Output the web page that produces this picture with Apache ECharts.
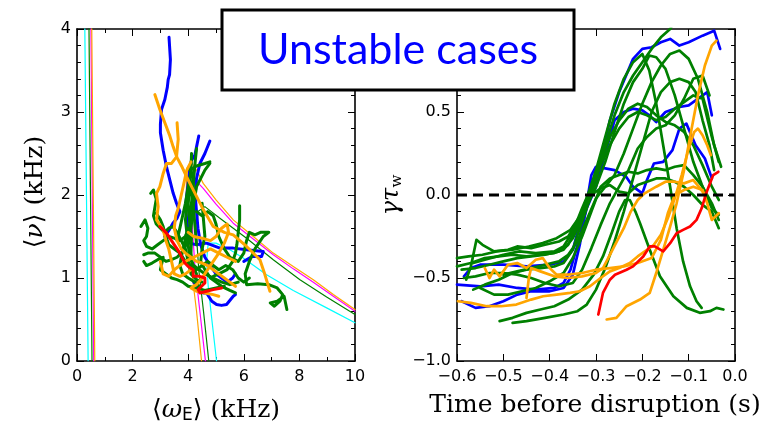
<!DOCTYPE html>
<html><head><meta charset="utf-8">
<script src="https://cdn.jsdelivr.net/npm/echarts@6/dist/echarts.min.js"></script>
<style>html,body{margin:0;padding:0;background:#fff}#c{width:762px;height:427px}</style>
</head><body><div id="c"></div>
<script>
// ---------- tick labels ----------
const leftXTicks = [0, 2, 4, 6, 8, 10];
const leftYTicks = [0, 1, 2, 3, 4];
const rightXTicks = [-0.6, -0.5, -0.4, -0.3, -0.2, -0.1, 0.0];
const rightYTicks = [-1.0, -0.5, 0.0, 0.5, 1.0];

// ---------- left panel: thin boundary curves (omega_E, nu) ----------
const thinCyanV = [[0.28,4.05],[0.4,0]];
const thinGreenV = [[0.43,4.05],[0.54,0]];
const thinMagentaV = [[0.5,4.05],[0.6,0]];
const thinOrangeV = [[0.53,4.05],[0.64,0]];
const thinOrange = [[4.48,0],[4.3,0.6],[4.12,1.1],[4.0,1.6],[3.93,2.0],[3.95,2.32],[4.1,2.4],[4.3,2.3],[4.54,2.14],[5.0,1.94],[5.62,1.7],[6.34,1.5],[7.06,1.3],[7.78,1.14],[8.5,0.98],[9.22,0.8],[10,0.62]];
const thinMagenta = [[4.62,0],[4.42,0.6],[4.25,1.1],[4.15,1.6],[4.12,2.0],[4.2,2.2],[4.54,2.08],[5.0,1.89],[5.62,1.66],[6.34,1.47],[7.06,1.28],[7.78,1.11],[8.5,0.95],[9.22,0.78],[10,0.6]];
const thinGreen = [[4.74,0],[4.55,0.6],[4.38,1.1],[4.3,1.5],[4.35,1.8],[4.6,1.86],[5.14,1.72],[6.1,1.48],[7.06,1.22],[8.02,0.98],[8.98,0.77],[10,0.56]];
const thinCyan = [[5.02,0],[4.85,0.5],[4.72,0.9],[4.66,1.2],[4.72,1.42],[5.0,1.42],[5.5,1.34],[5.98,1.24],[6.82,1.04],[7.78,0.85],[8.98,0.64],[10,0.46]];

// ---------- left panel: trajectories ----------
const leftBlue1 = [[3.31,3.9],[3.36,3.63],[3.33,3.45],[3.28,3.39],[3.25,3.3],[3.16,3.15],[3.04,3.03],[3.0,2.85],[3.0,2.75],[3.1,2.54],[3.22,2.34],[3.34,2.18],[3.46,2.02],[3.58,1.9],[3.7,1.8],[3.6,1.72],[3.45,1.66],[3.32,1.58],[3.15,1.5]];
const leftBlue2 = [[4.38,2.71],[4.3,2.58],[4.24,2.48],[4.12,2.42],[4.05,2.3],[4.0,2.15],[3.95,2.0],[3.9,1.85],[3.95,1.7],[4.0,1.55],[4.05,1.42],[4.3,1.4],[4.66,1.42],[5.14,1.36],[5.62,1.36],[6.1,1.34],[6.7,1.32],[6.64,1.26],[6.3,1.26],[6.0,1.2]];
const leftBlue3 = [[4.78,2.65],[4.6,2.5],[4.42,2.38],[4.3,2.2],[4.25,2.0],[4.3,1.8],[4.35,1.6],[4.45,1.4],[4.6,1.25],[4.8,1.15],[5.0,1.05],[5.2,1.0],[5.4,0.95],[5.6,1.0],[5.7,1.05]];
const leftBlue4 = [[4.2,0.95],[4.4,0.88],[4.55,0.82],[4.66,0.82],[4.85,0.72],[5.02,0.68],[5.2,0.67],[5.38,0.68],[5.62,0.78],[5.7,0.8]];

const leftGreen1 = [[4.3,2.56],[4.25,2.4],[4.2,2.2],[4.15,2.0],[4.1,1.85],[4.05,1.7],[4.08,1.55],[4.0,1.4],[4.05,1.25],[4.2,1.15],[4.4,1.1],[4.6,1.05],[4.9,1.0],[5.2,0.95],[5.5,0.92],[5.8,0.95]];
const leftGreen2 = [[4.78,2.38],[4.6,2.3],[4.45,2.2],[4.3,2.1],[4.2,1.9],[4.15,1.75],[4.1,1.6],[4.0,1.5],[3.9,1.38],[3.75,1.3],[3.6,1.25],[3.4,1.22],[3.2,1.2],[3.0,1.25],[2.8,1.3],[2.55,1.3],[2.4,1.28]];
const leftGreen3 = [[2.3,1.62],[2.45,1.7],[2.55,1.6],[2.5,1.5],[2.4,1.45],[2.5,1.38],[2.7,1.35],[2.9,1.4],[3.1,1.45],[3.3,1.5],[3.5,1.48],[3.7,1.45],[3.9,1.5],[4.0,1.6]];
const leftGreen4 = [[2.65,2.02],[2.75,2.06],[2.85,1.95],[2.8,1.85],[2.75,1.75],[2.85,1.65],[3.0,1.6],[3.15,1.55],[3.3,1.6],[3.45,1.62],[3.6,1.55],[3.75,1.45],[3.9,1.35],[4.0,1.2],[4.1,1.05],[4.3,0.98],[4.5,0.95]];
const leftGreen5 = [[4.3,1.8],[4.5,1.75],[4.7,1.8],[4.9,1.75],[5.0,1.65],[5.1,1.5],[5.3,1.35],[5.5,1.25],[5.8,1.2],[6.0,1.3],[6.1,1.45],[6.2,1.55],[6.4,1.52],[6.6,1.55],[6.9,1.55],[6.7,1.5],[6.4,1.35],[6.2,1.2],[6.05,1.05],[6.1,0.92],[6.5,0.93],[6.9,0.92],[7.2,0.88],[7.4,0.8],[7.3,0.72],[7.1,0.66],[6.95,0.7],[7.2,0.72],[7.45,0.78],[7.55,0.62]];
const leftGreen6 = [[4.5,1.9],[4.55,1.7],[4.6,1.5],[4.5,1.35],[4.45,1.2],[4.6,1.1],[4.8,1.0],[5.0,0.95],[5.2,0.9],[5.5,0.85],[5.7,0.82]];
const leftGreen7 = [[4.2,2.3],[4.15,2.15],[4.05,2.0],[3.95,1.85],[3.9,1.7],[3.95,1.55],[3.85,1.4],[3.75,1.25],[3.7,1.15],[3.8,1.05],[4.0,1.0],[4.25,0.95],[4.4,0.9]];
const leftGreen8 = [[2.4,1.2],[2.5,1.15],[2.7,1.18],[2.9,1.22],[3.1,1.25],[3.0,1.1],[3.2,1.05],[3.4,1.0],[3.6,0.98],[3.8,0.95],[4.0,0.9],[4.3,0.88],[4.6,0.85],[5.0,0.88],[5.3,0.9]];
const leftGreen9 = [[5.85,1.87],[5.85,1.7],[5.8,1.55],[5.75,1.4],[5.7,1.3],[5.6,1.2],[5.4,1.1],[5.1,1.05],[4.9,1.02]];
const leftGreen10 = [[2.85,1.78],[3.0,1.7],[3.1,1.62],[3.2,1.5],[3.3,1.4],[3.5,1.35],[3.7,1.3],[3.9,1.2],[4.1,1.15],[4.3,1.1],[4.5,1.15],[4.7,1.2],[4.9,1.15],[5.1,1.1],[5.35,1.15],[5.6,1.1],[5.8,1.0],[6.0,0.95],[6.2,1.0]];
const leftGreen11 = [[3.6,1.45],[3.7,1.6],[3.8,1.75],[3.9,1.9],[4.0,2.1],[4.1,2.25],[4.2,2.2],[4.15,2.0],[4.2,1.8],[4.25,1.6],[4.3,1.4]];
const leftGreen12 = [[4.05,2.3],[4.3,2.35],[4.6,2.38],[4.78,2.4]];
const leftGreen13 = [[4.12,2.5],[4.1,2.3],[4.02,2.1],[4.0,1.9],[4.05,1.7],[4.12,1.5],[4.1,1.3],[4.15,1.15],[4.3,1.05]];

const leftOrange1 = [[2.8,3.21],[2.98,3.03],[3.16,2.87],[3.34,2.71],[3.46,2.58],[3.6,2.45],[3.76,2.35],[3.94,2.22],[4.2,2.05],[4.5,1.85],[4.9,1.62],[5.3,1.55],[5.62,1.52],[6.1,1.38],[6.58,1.22],[6.75,1.05],[6.94,0.84]];
const leftOrange2 = [[3.6,2.87],[3.64,2.67],[3.58,2.46],[3.4,2.38],[3.22,2.38],[3.1,2.26],[2.98,2.1],[2.86,2.02],[2.92,1.86],[2.86,1.7],[3.1,1.58],[3.2,1.45],[3.3,1.35],[3.4,1.2],[3.5,1.05],[3.7,1.02],[3.9,1.05],[4.1,1.1]];
const leftOrange3 = [[4.1,2.4],[3.95,2.3],[3.85,2.15],[3.75,2.0],[3.65,1.85],[3.55,1.75],[3.5,1.6],[3.6,1.45],[3.75,1.35],[3.9,1.3],[4.1,1.25],[4.3,1.2],[4.5,1.18],[4.7,1.15],[4.9,1.1],[5.1,1.05],[5.3,1.0],[5.5,0.95],[5.7,0.9]];
const leftOrange4 = [[4.0,1.55],[4.2,1.5],[4.5,1.48],[4.8,1.45],[5.0,1.5],[5.2,1.6],[5.4,1.65],[5.45,1.55],[5.3,1.42],[5.1,1.3],[4.9,1.2],[4.7,1.1],[4.5,1.0],[4.3,0.92],[4.1,0.88],[4.3,0.84],[4.6,0.82],[4.9,0.8],[5.1,0.78]];
const leftOrange5 = [[3.0,1.2],[3.1,1.05],[3.3,1.02],[3.5,1.1],[3.7,1.15],[3.9,1.2],[4.2,1.25],[4.5,1.3],[4.8,1.35],[5.1,1.3],[5.4,1.25],[5.7,1.2]];

const leftRed = [[2.98,1.62],[3.22,1.54],[3.46,1.42],[3.7,1.3],[3.88,1.18],[4.0,1.14],[4.18,1.1],[4.18,1.02],[4.42,1.02],[4.6,1.0],[4.6,0.94],[4.48,0.9],[4.36,0.86],[4.42,0.82],[4.66,0.84],[4.9,0.86],[5.2,0.88]];

// ---------- right panel: growth rate vs time (t, gamma*tau_w) ----------
const rightBlue1 = [[-0.585,-0.49],[-0.57,-0.44],[-0.55,-0.42],[-0.5,-0.42],[-0.45,-0.43],[-0.4,-0.42],[-0.37,-0.4],[-0.35,-0.33],[-0.33,-0.12],[-0.31,0.02],[-0.29,0.2],[-0.27,0.45],[-0.25,0.62],[-0.22,0.82],[-0.2,0.88],[-0.18,0.89],[-0.16,0.92],[-0.14,0.94],[-0.12,0.9],[-0.1,0.92],[-0.07,0.96],[-0.045,0.99],[-0.032,0.88]];
const rightBlue2 = [[-0.6,-0.54],[-0.55,-0.55],[-0.51,-0.54],[-0.47,-0.56],[-0.43,-0.57],[-0.39,-0.56],[-0.37,-0.53],[-0.355,-0.45],[-0.34,-0.3],[-0.32,-0.08],[-0.3,0.05],[-0.28,0.25],[-0.26,0.45],[-0.24,0.5],[-0.22,0.52],[-0.2,0.51],[-0.185,0.48],[-0.17,0.44],[-0.15,0.5],[-0.12,0.53],[-0.1,0.54],[-0.075,0.59],[-0.06,0.62],[-0.05,0.48]];
const rightBlue3 = [[-0.59,-0.64],[-0.56,-0.68],[-0.53,-0.67],[-0.5,-0.64],[-0.47,-0.6],[-0.44,-0.58],[-0.4,-0.58],[-0.37,-0.56],[-0.35,-0.48],[-0.335,-0.3],[-0.32,-0.05],[-0.31,0.12],[-0.3,0.17],[-0.28,0.16],[-0.26,0.15],[-0.235,0.11],[-0.22,0.05],[-0.2,0.01],[-0.19,0.09],[-0.175,0.19],[-0.155,0.2],[-0.135,0.27],[-0.12,0.4],[-0.105,0.43],[-0.085,0.3],[-0.065,0.22],[-0.05,0.1]];

const rightGreen1 = [[-0.6,-0.38],[-0.575,-0.37],[-0.545,-0.36],[-0.515,-0.34],[-0.48,-0.33],[-0.445,-0.31],[-0.415,-0.29],[-0.385,-0.26],[-0.355,-0.21],[-0.335,-0.13],[-0.315,-0.04],[-0.3,0.05],[-0.28,0.2],[-0.26,0.38],[-0.24,0.55],[-0.22,0.68],[-0.2,0.76],[-0.185,0.84],[-0.17,0.83],[-0.15,0.76],[-0.13,0.6],[-0.11,0.4],[-0.09,0.2],[-0.07,0.05],[-0.05,-0.08],[-0.035,-0.12]];
const rightGreen2 = [[-0.58,-0.51],[-0.57,-0.43],[-0.558,-0.27],[-0.545,-0.3],[-0.52,-0.34],[-0.49,-0.33],[-0.47,-0.31],[-0.44,-0.32],[-0.41,-0.3],[-0.38,-0.28],[-0.36,-0.25],[-0.34,-0.16],[-0.32,-0.05],[-0.3,0.1],[-0.28,0.3],[-0.26,0.48],[-0.24,0.62],[-0.22,0.72],[-0.2,0.8],[-0.18,0.88],[-0.16,0.95],[-0.14,1.0],[-0.13,1.05]];
const rightGreen3 = [[-0.565,-0.41],[-0.54,-0.39],[-0.5,-0.36],[-0.465,-0.34],[-0.43,-0.35],[-0.39,-0.34],[-0.37,-0.31],[-0.35,-0.22],[-0.33,-0.08],[-0.31,0.05],[-0.29,0.2],[-0.27,0.35],[-0.25,0.45],[-0.23,0.52],[-0.21,0.55],[-0.19,0.53],[-0.17,0.48],[-0.15,0.44],[-0.13,0.42],[-0.11,0.38],[-0.09,0.3],[-0.07,0.18],[-0.05,0.05],[-0.035,-0.03]];
const rightGreen4 = [[-0.565,-0.57],[-0.54,-0.54],[-0.51,-0.51],[-0.48,-0.47],[-0.45,-0.45],[-0.42,-0.44],[-0.39,-0.43],[-0.37,-0.41],[-0.35,-0.33],[-0.335,-0.2],[-0.32,-0.08],[-0.305,0.05],[-0.29,0.18],[-0.27,0.3],[-0.25,0.4],[-0.23,0.47],[-0.21,0.5],[-0.19,0.48],[-0.17,0.45],[-0.15,0.47],[-0.13,0.52],[-0.11,0.56],[-0.09,0.6],[-0.07,0.58],[-0.05,0.35],[-0.035,0.2]];
const rightGreen5 = [[-0.508,-0.76],[-0.48,-0.74],[-0.45,-0.71],[-0.42,-0.69],[-0.39,-0.67],[-0.36,-0.63],[-0.33,-0.57],[-0.305,-0.48],[-0.285,-0.37],[-0.265,-0.22],[-0.25,-0.1],[-0.237,-0.03],[-0.227,-0.03],[-0.215,-0.1],[-0.205,-0.17],[-0.184,-0.33],[-0.162,-0.49],[-0.133,-0.61],[-0.104,-0.68],[-0.076,-0.71],[-0.054,-0.7],[-0.04,-0.68],[-0.025,-0.69]];
const rightGreen6 = [[-0.48,-0.77],[-0.45,-0.76],[-0.41,-0.74],[-0.37,-0.72],[-0.34,-0.7],[-0.32,-0.66],[-0.3,-0.57],[-0.28,-0.44],[-0.26,-0.28],[-0.24,-0.1],[-0.22,0.1],[-0.2,0.3],[-0.18,0.5],[-0.16,0.62],[-0.14,0.68],[-0.12,0.7],[-0.1,0.68],[-0.085,0.62],[-0.07,0.45],[-0.055,0.3],[-0.045,0.15]];
const rightGreen7 = [[-0.59,-0.45],[-0.56,-0.44],[-0.53,-0.42],[-0.5,-0.4],[-0.47,-0.38],[-0.44,-0.37],[-0.41,-0.36],[-0.38,-0.34],[-0.36,-0.3],[-0.34,-0.18],[-0.32,-0.02],[-0.3,0.15],[-0.28,0.35],[-0.26,0.55],[-0.24,0.7],[-0.22,0.8],[-0.2,0.85],[-0.185,0.75],[-0.17,0.55],[-0.155,0.3],[-0.14,0.05],[-0.126,-0.2],[-0.112,-0.4],[-0.097,-0.55],[-0.083,-0.64],[-0.072,-0.68]];
const rightGreen8 = [[-0.55,-0.56],[-0.52,-0.6],[-0.49,-0.6],[-0.46,-0.58],[-0.43,-0.56],[-0.4,-0.52],[-0.37,-0.47],[-0.35,-0.38],[-0.33,-0.25],[-0.31,-0.1],[-0.29,0.05],[-0.27,0.1],[-0.25,0.12],[-0.23,0.14],[-0.21,0.13],[-0.19,0.15],[-0.17,0.16],[-0.15,0.15],[-0.13,0.17],[-0.11,0.18],[-0.09,0.12],[-0.07,0.05],[-0.05,-0.05],[-0.035,-0.15]];
const rightGreen9 = [[-0.5,-0.48],[-0.47,-0.46],[-0.44,-0.44],[-0.41,-0.42],[-0.38,-0.4],[-0.36,-0.36],[-0.34,-0.28],[-0.32,-0.15],[-0.3,-0.02],[-0.28,0.05],[-0.26,0.12],[-0.24,0.25],[-0.22,0.4],[-0.2,0.55],[-0.18,0.68],[-0.16,0.78],[-0.14,0.85],[-0.12,0.87],[-0.1,0.82],[-0.08,0.7],[-0.06,0.5],[-0.045,0.3],[-0.03,0.17]];
const rightGreen10 = [[-0.6,-0.43],[-0.57,-0.41],[-0.54,-0.38],[-0.51,-0.37],[-0.48,-0.36],[-0.45,-0.37],[-0.42,-0.36],[-0.39,-0.35],[-0.37,-0.33],[-0.35,-0.26],[-0.33,-0.14],[-0.31,0.0],[-0.29,0.04],[-0.27,0.06],[-0.25,0.02],[-0.23,0.01],[-0.21,0.06],[-0.19,0.08],[-0.17,0.1],[-0.15,0.1],[-0.13,0.08],[-0.11,0.05],[-0.09,0.0],[-0.07,-0.06],[-0.05,-0.1],[-0.035,-0.2]];
const rightGreen11 = [[-0.585,-0.5],[-0.56,-0.49],[-0.53,-0.47],[-0.5,-0.47],[-0.47,-0.48],[-0.44,-0.5],[-0.41,-0.53],[-0.38,-0.55],[-0.35,-0.53],[-0.33,-0.45],[-0.31,-0.32],[-0.29,-0.18],[-0.27,-0.05],[-0.25,0.05],[-0.23,0.15],[-0.21,0.28],[-0.19,0.35],[-0.17,0.4],[-0.15,0.42],[-0.13,0.48],[-0.11,0.58],[-0.09,0.7],[-0.07,0.72],[-0.055,0.6]];

const rightOrange1 = [[-0.598,-0.64],[-0.57,-0.65],[-0.536,-0.67],[-0.505,-0.67],[-0.472,-0.66],[-0.44,-0.63],[-0.414,-0.61],[-0.385,-0.6],[-0.356,-0.59],[-0.335,-0.58],[-0.313,-0.55],[-0.29,-0.5],[-0.27,-0.46],[-0.25,-0.44],[-0.227,-0.41],[-0.21,-0.37],[-0.19,-0.33],[-0.175,-0.3],[-0.16,-0.24],[-0.145,-0.14],[-0.13,-0.02],[-0.115,0.12],[-0.1,0.28],[-0.088,0.38],[-0.08,0.4],[-0.07,0.36],[-0.06,0.3],[-0.052,0.24]];
const rightOrange2 = [[-0.54,-0.44],[-0.53,-0.5],[-0.52,-0.45],[-0.508,-0.49],[-0.49,-0.42],[-0.47,-0.41],[-0.45,-0.44],[-0.43,-0.39],[-0.415,-0.38],[-0.4,-0.44],[-0.385,-0.48],[-0.36,-0.48],[-0.33,-0.47],[-0.3,-0.45],[-0.27,-0.44],[-0.24,-0.43],[-0.21,-0.41],[-0.18,-0.38],[-0.16,-0.27],[-0.145,-0.11],[-0.13,0.0],[-0.11,0.03],[-0.09,0.05],[-0.07,0.03],[-0.06,-0.05],[-0.05,-0.15],[-0.035,-0.11]];
const rightOrange3 = [[-0.45,-0.62],[-0.445,-0.5],[-0.44,-0.44],[-0.42,-0.46],[-0.39,-0.49],[-0.36,-0.5],[-0.33,-0.49],[-0.3,-0.47],[-0.285,-0.44],[-0.27,-0.36],[-0.255,-0.28],[-0.24,-0.2],[-0.225,-0.1],[-0.21,-0.03],[-0.195,0.01],[-0.17,0.05],[-0.15,0.08],[-0.13,0.08],[-0.11,0.07],[-0.09,0.09],[-0.075,0.04],[-0.065,0.0]];
const rightOrange4 = [[-0.277,-0.75],[-0.256,-0.74],[-0.234,-0.67],[-0.205,-0.63],[-0.184,-0.59],[-0.17,-0.47],[-0.155,-0.33],[-0.14,-0.19],[-0.126,-0.05],[-0.11,0.15],[-0.095,0.38],[-0.08,0.6],[-0.065,0.78],[-0.05,0.9],[-0.04,0.93]];

const rightRed = [[-0.295,-0.72],[-0.285,-0.59],[-0.27,-0.51],[-0.259,-0.48],[-0.234,-0.45],[-0.22,-0.43],[-0.198,-0.37],[-0.184,-0.31],[-0.173,-0.31],[-0.155,-0.34],[-0.14,-0.29],[-0.126,-0.23],[-0.112,-0.21],[-0.097,-0.19],[-0.083,-0.15],[-0.072,-0.08],[-0.061,0.02],[-0.047,0.12],[-0.036,0.14]];

const zeroLine = [[-0.6,0],[0.0,0]];

// ---------- build chart ----------
const C = {blue:'#0000ff', green:'#008000', orange:'#ffa500', red:'#ff0000', cyan:'#00ffff', magenta:'#ff00ff'};
const series = [];
function add(data, color, width, panel, extra) {
  const s = {type:'line', data:data, xAxisIndex: panel*2, yAxisIndex: panel*2, showSymbol:false, symbol:'none',
    smooth:false, animation:false, silent:true,
    lineStyle:{color:color, width:width, join:'round', cap:'round'}};
  if (extra) Object.assign(s.lineStyle, extra);
  series.push(s);
}
[[thinCyanV,C.cyan],[thinGreenV,C.green],[thinMagentaV,C.magenta],[thinOrangeV,C.orange],
 [thinCyan,C.cyan],[thinGreen,C.green],[thinMagenta,C.magenta],[thinOrange,C.orange]].forEach(p=>add(p[0],p[1],1.2,0));
[leftBlue1,leftBlue2,leftBlue3,leftBlue4].forEach(d=>add(d,C.blue,3,0));
[leftGreen1,leftGreen2,leftGreen3,leftGreen4,leftGreen5,leftGreen6,leftGreen7,leftGreen8,leftGreen9,leftGreen10,leftGreen11,leftGreen12,leftGreen13].forEach(d=>add(d,C.green,3,0));
[leftOrange1,leftOrange2,leftOrange3,leftOrange4,leftOrange5].forEach(d=>add(d,C.orange,3,0));
add(leftRed,C.red,3,0);
[rightBlue1,rightBlue2,rightBlue3].forEach(d=>add(d,C.blue,2.7,1));
[rightGreen1,rightGreen2,rightGreen3,rightGreen4,rightGreen5,rightGreen6,rightGreen7,rightGreen8,rightGreen9,rightGreen10,rightGreen11].forEach(d=>add(d,C.green,2.7,1));
[rightOrange1,rightOrange2,rightOrange3,rightOrange4].forEach(d=>add(d,C.orange,2.7,1));
add(rightRed,C.red,2.7,1);
add(zeroLine,'#000',2.8,1,{type:[10,6], cap:'butt'});

const tickFont = {fontFamily:'DejaVu Sans', fontSize:16, color:'#000'};
const fmt1 = v => (Math.abs(v)<1e-9 ? '0.0' : v.toFixed(1).replace('-','\u2212'));
const fmt0 = v => String(Math.round(v));
function axis(grid, pos, min, max, interval, minorSplit, showLabel, fmt, margin) {
  return {type:'value', gridIndex:grid, position:pos, min:min, max:max, interval:interval,
    axisLine:{show:true, onZero:false, lineStyle:{color:'#000', width:1.6}},
    axisTick:{show:true, inside:true, length:7, lineStyle:{color:'#000', width:1}},
    minorTick:{show: minorSplit>1, splitNumber:minorSplit, length:4, lineStyle:{color:'#000', width:1}},
    splitLine:{show:false}, minorSplitLine:{show:false},
    axisLabel: showLabel ? Object.assign({show:true, margin:margin, formatter:fmt, showMinLabel:true, showMaxLabel:true}, tickFont) : {show:false}};
}
const xAxes = [
  axis(0,'bottom',leftXTicks[0],leftXTicks[leftXTicks.length-1],2,2,true,fmt0,8),
  axis(0,'top',leftXTicks[0],leftXTicks[leftXTicks.length-1],2,2,false),
  axis(1,'bottom',rightXTicks[0],rightXTicks[rightXTicks.length-1],0.1,1,true,fmt1,8),
  axis(1,'top',rightXTicks[0],rightXTicks[rightXTicks.length-1],0.1,1,false)
];
const yAxes = [
  axis(0,'left',leftYTicks[0],leftYTicks[leftYTicks.length-1],1,5,true,fmt0,6),
  axis(0,'right',leftYTicks[0],leftYTicks[leftYTicks.length-1],1,5,false),
  axis(1,'left',rightYTicks[0],rightYTicks[rightYTicks.length-1],0.5,5,true,fmt1,6),
  axis(1,'right',rightYTicks[0],rightYTicks[rightYTicks.length-1],0.5,5,false)
];

const serif = 'DejaVu Serif';
const graphic = [
  {type:'text', x:216, y:410, z:50, style:{text:'\u27E8{it|\u03C9}{sub|E}\u27E9 (kHz)', font:'25px '+serif, fill:'#000', align:'center', verticalAlign:'middle', textAlign:'center', textVerticalAlign:'middle',
    rich:{it:{fontStyle:'italic', fontFamily:serif, fontSize:25}, sub:{fontFamily:'DejaVu Sans', fontSize:17, padding:[12,0,0,0]}}}},
  {type:'text', x:35, y:192, rotation:Math.PI/2, z:50, style:{text:'\u27E8{it|\u03BD}\u27E9 (kHz)', font:'25px '+serif, fill:'#000', align:'center', verticalAlign:'middle', textAlign:'center', textVerticalAlign:'middle',
    rich:{it:{fontStyle:'italic', fontFamily:serif, fontSize:25}}}},
  {type:'text', x:595, y:405, z:50, style:{text:'Time before disruption (s)', font:'25px '+serif, fill:'#000', align:'center', verticalAlign:'middle', textAlign:'center', textVerticalAlign:'middle'}},
  {type:'text', x:392, y:195, rotation:Math.PI/2, z:50, style:{text:'{it|\u03B3\u03C4}{sub|w}', font:'24px '+serif, fill:'#000', align:'center', verticalAlign:'middle', textAlign:'center', textVerticalAlign:'middle',
    rich:{it:{fontStyle:'italic', fontFamily:serif, fontSize:24}, sub:{fontFamily:serif, fontSize:15, padding:[10,0,0,0]}}}},
  {type:'rect', z:100, shape:{x:222, y:10, width:352, height:80}, style:{fill:'#fff', stroke:'#000', lineWidth:3}},
  {type:'text', z:101, x:398, y:50, style:{text:'Unstable cases', font:'43px Lato', fill:'#0000ff', align:'center', verticalAlign:'middle', textAlign:'center', textVerticalAlign:'middle'}}
];

const chart = echarts.init(document.getElementById('c'), null, {renderer:'canvas'});
chart.setOption({
  animation:false,
  backgroundColor:'#fff',
  grid:[{left:77, top:29, width:278, height:332, containLabel:false},{left:457, top:29, width:278, height:332, containLabel:false}],
  xAxis:xAxes, yAxis:yAxes, series:series, graphic:graphic
});
</script></body></html>
